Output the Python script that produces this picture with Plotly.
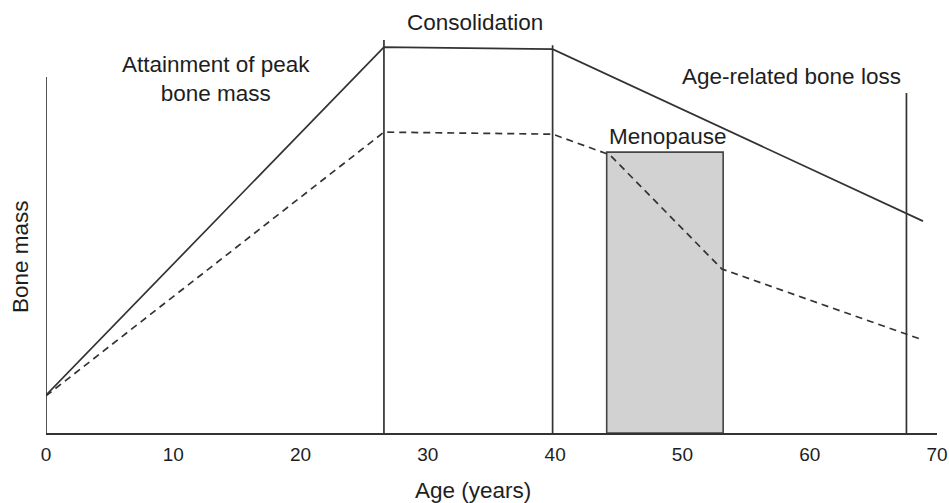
import plotly.graph_objects as go

# ---- data (age in years, bone mass in arbitrary units) ----
solid_age = [0, 26.55, 39.8, 68.9]
solid_mass = [9.5, 96.7, 96.2, 53.1]

dashed_age = [0, 26.55, 39.8, 44.3, 53.1, 68.9]
dashed_mass = [9.3, 75.4, 74.9, 69.7, 41.1, 23.3]

# vertical phase boundaries: age and top of line
boundary_age = [0, 26.55, 39.8, 67.6]
boundary_top = [89.2, 98.5, 97.2, 85.2]

menopause_start = 44.05
menopause_end = 53.2
menopause_top = 70.4

tick_vals = [0, 10, 20, 30, 40, 50, 60, 70]
tick_text = ["0", "10", "20", "30", "40", "50", "60", "70"]

# ---- layout geometry (pixels) ----
W, H = 949, 503
L, R, T, B = 46, 12, 34, 70
PW, PH = W - L - R, H - T - B


def px(x):
    return (x - L) / PW


def py(y):
    return (H - B - y) / PH


LINE = "#333333"
FONT = "Liberation Sans, Arial, Helvetica, sans-serif"

fig = go.Figure()

# menopause box
fig.add_shape(type="rect", x0=menopause_start, x1=menopause_end, y0=0, y1=menopause_top,
              xref="x", yref="y", fillcolor="#d2d2d2",
              line=dict(color="#444444", width=1.6), layer="below")

# vertical boundaries
for a, t in zip(boundary_age, boundary_top):
    fig.add_shape(type="line", x0=a, x1=a, y0=0, y1=t, xref="x", yref="y",
                  line=dict(color=LINE, width=1.7))

fig.add_trace(go.Scatter(x=solid_age, y=solid_mass, mode="lines",
                         line=dict(color=LINE, width=1.7), showlegend=False,
                         hoverinfo="skip"))
fig.add_trace(go.Scatter(x=dashed_age, y=dashed_mass, mode="lines",
                         line=dict(color=LINE, width=1.7, dash="7px,5px"),
                         showlegend=False, hoverinfo="skip"))

ann_font = dict(family=FONT, size=22.5, color="#1e1e1e")
annotations = [
    ("Consolidation", 475, 22),
    ("Attainment of peak<br>bone mass", 216, 79),
    ("Age-related bone loss", 791, 76),
    ("Menopause", 668, 136),
    ("Age (years)", 473, 491),
]
for text, x, y in annotations:
    fig.add_annotation(text=text, x=px(x), y=py(y), xref="paper", yref="paper",
                       xanchor="center", yanchor="middle", showarrow=False,
                       font=ann_font, align="center")

fig.add_annotation(text="Bone mass", x=px(20), y=py(257), xref="paper", yref="paper",
                   xanchor="center", yanchor="middle", showarrow=False,
                   textangle=-90, font=ann_font)

fig.update_layout(
    width=W, height=H,
    margin=dict(l=L, r=R, t=T, b=B, autoexpand=False),
    paper_bgcolor="white", plot_bgcolor="white",
    xaxis=dict(range=[0, 70], tickvals=tick_vals, ticktext=tick_text,
               showgrid=False, zeroline=False, showline=True, linecolor=LINE,
               linewidth=1.7, ticks="outside", ticklen=3,
               tickcolor="rgba(0,0,0,0)",
               tickfont=dict(family=FONT, size=19, color="#1e1e1e")),
    yaxis=dict(range=[0, 100], showgrid=False, zeroline=False, showline=False,
               showticklabels=False, ticks=""),
    showlegend=False,
)

fig.write_html("out.html", config={"displayModeBar": False},
               post_script="document.body.style.margin='0';document.body.style.overflow='hidden';")
